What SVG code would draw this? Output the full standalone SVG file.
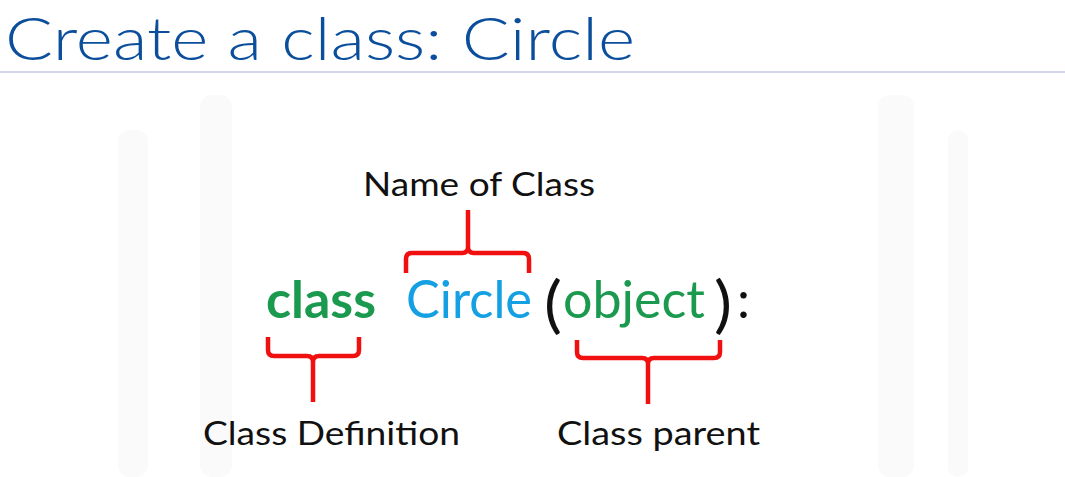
<svg xmlns="http://www.w3.org/2000/svg" width="1065" height="477" viewBox="0 0 1065 477">
<style>
.lbl{font-family:"Lato","Open Sans","Liberation Sans",sans-serif;font-size:33px;fill:#111}
.code{font-family:"Lato","Open Sans","Liberation Sans",sans-serif;font-size:52px}
.par{font-family:"Lato","Open Sans","Liberation Sans",sans-serif;font-size:62px;fill:#111}
.br{fill:none;stroke:#f01010;stroke-width:4.5;stroke-linejoin:round;stroke-linecap:butt}
.bg{fill:#fafafa}
</style>
<rect width="1065" height="477" fill="#ffffff"/>
<g id="background">
<rect class="bg" x="118" y="130" width="30" height="347" rx="12"/>
<rect class="bg" x="200" y="95" width="32" height="382" rx="12"/>
<rect class="bg" x="878" y="95" width="36" height="382" rx="12"/>
<rect class="bg" x="948" y="130" width="20" height="347" rx="10"/>
</g>
<g id="title">
<text x="5" y="60" font-family="Lato, Liberation Sans, sans-serif" font-weight="300" font-size="60" fill="#0b4e9c" textLength="630" lengthAdjust="spacingAndGlyphs">Create a class: Circle</text>
<line x1="0" y1="72" x2="1065" y2="72" stroke="#d3d6ea" stroke-width="2"/>
</g>
<g id="code">
<text class="code" x="266" y="318" font-weight="bold" fill="#1b9a4f" textLength="110" lengthAdjust="spacingAndGlyphs">class</text>
<text class="code" x="406" y="318" fill="#15a0e3" textLength="126" lengthAdjust="spacingAndGlyphs">Circle</text>
<text class="par" x="544" y="326" textLength="18" lengthAdjust="spacingAndGlyphs">(</text>
<text class="code" x="563" y="318" fill="#1b9a4f" textLength="142" lengthAdjust="spacingAndGlyphs">object</text>
<text class="par" x="714" y="326" textLength="18" lengthAdjust="spacingAndGlyphs">)</text>
<text class="code" x="737" y="318" fill="#111" textLength="13" lengthAdjust="spacingAndGlyphs">:</text>
</g>
<g id="connectors">
<path class="br" d="M406,273 V259 Q406,253 412,253 H462 Q468,253 468,247 V210 M468,247 Q468,253 474,253 H523 Q529,253 529,259 V273"/>
<path class="br" d="M268,337 V350 Q268,356 274,356 H307 Q313,356 313,362 V402 M313,362 Q313,356 319,356 H353 Q359,356 359,350 V337"/>
<path class="br" d="M577,340 V352 Q577,358 583,358 H642 Q648,358 648,364 V404 M648,364 Q648,358 654,358 H714 Q720,358 720,352 V340"/>
</g>
<g id="name-of-class">
<text class="lbl" x="363" y="196" textLength="232" lengthAdjust="spacingAndGlyphs">Name of Class</text>
</g>
<g id="class-definition">
<text class="lbl" x="203" y="445" textLength="257" lengthAdjust="spacingAndGlyphs">Class Definition</text>
</g>
<g id="class-parent">
<text class="lbl" x="557" y="445" textLength="203" lengthAdjust="spacingAndGlyphs">Class parent</text>
</g>
</svg>
